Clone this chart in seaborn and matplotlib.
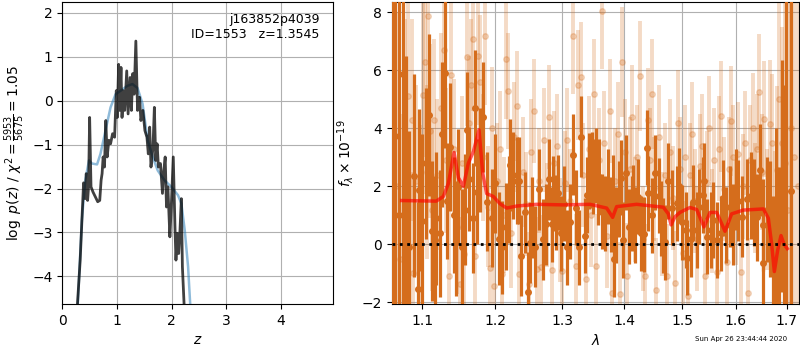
import matplotlib
matplotlib.use("Agg")
import matplotlib.pyplot as plt
import seaborn as sns
import pandas as pd
from matplotlib.ticker import FixedLocator, FixedFormatter, NullLocator

############################
# redshift panel data
############################
pz_z = [0.25, 0.278, 0.327, 0.364, 0.389, 0.42, 0.438, 0.463, 0.48, 0.50,
        0.525, 0.562, 0.605, 0.648, 0.685, 0.71, 0.728, 0.747, 0.772, 0.796,
        0.821, 0.852, 0.883, 0.92, 0.957, 0.988, 1.006, 1.031, 1.049, 1.074,
        1.093, 1.117, 1.142, 1.179, 1.204, 1.241, 1.265, 1.29, 1.315, 1.346,
        1.377, 1.414, 1.438, 1.475, 1.512, 1.549, 1.574, 1.599, 1.623, 1.66,
        1.685, 1.71, 1.735, 1.759, 1.796, 1.833, 1.858, 1.883, 1.907, 1.932,
        1.969, 1.994, 2.031, 2.062, 2.08, 2.105, 2.13, 2.154, 2.179, 2.198,
        2.228, 2.253]
pz_logp = [-5.3, -4.61, -3.63, -2.57, -1.87, -2.23, -1.66, -2.27, -1.96, -0.38,
           -1.96, -2.08, -2.19, -2.30, -2.27, -1.81, -1.66, -1.28, -1.51, -0.45,
           -1.28, -0.90, -0.98, -0.75, -0.83, 0.23, -0.38, 0.83, -0.22, 0.76,
           -0.38, 0.23, -0.22, 0.68, -0.30, 0.53, -0.22, 0.62, 0.15, 1.36,
           -0.22, 0.08, -0.45, -0.22, -0.68, -0.83, -1.21, -0.60, -1.51, -1.06,
           -0.15, -1.36, -0.98, -1.51, -1.43, -2.11, -1.59, -1.28, -2.42, -1.96,
           -3.10, -2.42, -1.28, -2.87, -3.63, -3.02, -3.48, -2.95, -2.23, -3.78,
           -4.61, -5.3]

smooth_z = [0.265, 0.284, 0.358, 0.42, 0.488, 0.543, 0.636, 0.698, 0.79, 0.883,
            0.975, 1.068, 1.191, 1.284, 1.377, 1.469, 1.562, 1.654, 1.747, 1.87,
            1.994, 2.117, 2.179, 2.241, 2.302, 2.34, 2.364]
smooth_logp = [-5.3, -4.61, -2.72, -1.81, -1.36, -1.43, -1.45, -1.21, -0.68, -0.15,
               0.15, 0.23, 0.34, 0.38, 0.29, -0.07, -0.90, -1.28, -1.59, -1.81,
               -1.96, -2.15, -2.34, -2.95, -3.78, -4.61, -5.3]

############################
# spectrum panel data
############################
dark_wave = [1.0615, 1.0651, 1.0700, 1.0749, 1.0790, 1.0827, 1.0896, 1.0939, 1.0961, 1.1000,
             1.1049, 1.1084, 1.1124, 1.1173, 1.1181, 1.1235, 1.1266, 1.1307, 1.1334, 1.1375,
             1.1420, 1.1452, 1.1479, 1.1530, 1.1570, 1.1603, 1.1636, 1.1680, 1.1720, 1.1743,
             1.1790, 1.1832, 1.1879, 1.1950, 1.2000, 1.2051, 1.2099, 1.2150, 1.2196, 1.2215,
             1.2259, 1.2313, 1.2342, 1.2381, 1.2430, 1.2480, 1.2510, 1.2545, 1.2580, 1.2640,
             1.2711, 1.2751, 1.2797, 1.2843, 1.2863, 1.2900, 1.2940, 1.2987, 1.3030, 1.3070,
             1.3122, 1.3164, 1.3211, 1.3269, 1.3301, 1.3359, 1.3396, 1.3428, 1.3466, 1.3493,
             1.3531, 1.3563, 1.3590, 1.3639, 1.3688, 1.3740, 1.3781, 1.3808, 1.3836, 1.3863,
             1.3913, 1.3950, 1.3985, 1.4024, 1.4074, 1.4125, 1.4153, 1.4176, 1.4238, 1.4278,
             1.4341, 1.4381, 1.4404, 1.4470, 1.4531, 1.4589, 1.4630, 1.4670, 1.4705, 1.4758,
             1.4823, 1.4906, 1.4953, 1.5007, 1.5067, 1.5085, 1.5157, 1.5205, 1.5266, 1.5309,
             1.5376, 1.5406, 1.5461, 1.5523, 1.5573, 1.5635, 1.5716, 1.5760, 1.5810, 1.5886,
             1.5949, 1.6000, 1.6045, 1.6122, 1.6206, 1.6283, 1.6355, 1.6413, 1.6466, 1.6518,
             1.6531, 1.6600, 1.6663, 1.6730, 1.6790, 1.6843, 1.6897, 1.6950, 1.6990, 1.7086]
dark_flux = [2.0, 3.74, 1.0, 5.87, 1.5, -0.10, 2.37, -1.54, 1.87, 0.8,
             2.79, 4.46, 0.46, 0.15, 0.90, 0.38, 3.79, 5.92, 1.48, 3.36,
             1.0, 0.20, 1.98, -0.10, 1.2, 3.94, 2.26, 0.9, 4.69, 1.82,
             2.9, 4.40, 1.47, 0.90, 2.1, 0.20, -0.10, 0.6, 1.53, 2.74,
             2.39, 2.20, 2.20, -0.39, 1.1, -1.66, 0.06, 0.93, -0.08, 1.9,
             0.18, 0.69, 2.24, 0.69, 1.76, 1.1, 1.78, 0.38, 1.4, -0.10,
             0.78, 3.09, 1.26, -0.10, 3.71, 0.30, 1.70, 2.53, 2.56, 2.33,
             2.71, 1.95, 2.33, 1.13, 1.07, 2.0, 1.03, 1.79, -0.52, 0.66,
             1.56, 2.3, 0.15, 2.47, 0.61, 1.07, 1.45, 0.67, 1.64, 0.38,
             0.34, 3.33, 1.76, 1.0, 2.47, 1.68, 0.9, 0.30, 0.07, 2.18,
             1.26, 1.41, 2.02, 0.76, 0.49, -0.46, 0.17, 1.45, 0.49, 1.30,
             1.70, 2.18, 0.26, 0.49, 0.84, 0.15, 0.38, 1.6, 0.67, 1.30,
             0.67, 1.9, 1.51, 0.95, 1.55, 1.68, 1.44, 0.93, 2.56, -0.66,
             0.67, 1.2, 0.87, -0.94, 0.5, -0.83, 2.36, 1.0, 9.5, 1.84]
dark_err = [30, 30, 30, 30, 5.0, 4.0, 3.5, 3.0, 2.8, 3.0,
            2.6, 2.8, 2.4, 2.2, 2.3, 2.2, 2.5, 2.6, 2.0, 2.2,
            2.0, 2.0, 2.0, 2.0, 1.9, 2.0, 1.8, 1.9, 2.0, 1.8,
            1.8, 1.9, 1.7, 1.7, 1.7, 1.6, 1.6, 1.5, 1.5, 1.6,
            1.5, 1.5, 1.5, 1.4, 1.4, 1.4, 1.4, 1.4, 1.4, 1.4,
            1.4, 1.4, 1.4, 1.3, 1.3, 1.3, 1.3, 1.3, 1.3, 1.3,
            1.3, 1.4, 1.3, 1.3, 1.4, 1.3, 1.3, 1.3, 1.3, 1.3,
            1.3, 1.3, 1.3, 1.3, 1.3, 1.3, 1.3, 1.3, 1.3, 1.3,
            1.3, 1.3, 1.3, 1.3, 1.3, 1.3, 1.3, 1.3, 1.3, 1.3,
            1.3, 1.3, 1.3, 1.3, 1.3, 1.3, 1.3, 1.3, 1.3, 1.3,
            1.3, 1.3, 1.3, 1.3, 1.3, 1.3, 1.3, 1.3, 1.3, 1.3,
            1.3, 1.3, 1.3, 1.3, 1.3, 1.3, 1.3, 1.3, 1.3, 1.4,
            1.4, 1.4, 1.4, 1.4, 1.4, 1.5, 1.5, 1.5, 1.6, 1.6,
            1.6, 1.8, 2.0, 2.6, 3.5, 3.5, 4.0, 4.5, 30, 30]

light_wave = [1.0620, 1.0665, 1.0710, 1.0770, 1.0815, 1.0860, 1.0880, 1.0920, 1.0975,
              1.1005, 1.1032, 1.1060, 1.1076, 1.1100, 1.1130, 1.1160, 1.1200, 1.1250, 1.1284,
              1.1320, 1.1355, 1.1384, 1.1430, 1.1470, 1.1500, 1.1540, 1.1565, 1.1600, 1.1630,
              1.1658, 1.1690, 1.1720, 1.1758, 1.1790, 1.1830, 1.1859, 1.1900, 1.1930, 1.1960,
              1.1990, 1.2030, 1.2070, 1.2100, 1.2130, 1.2157, 1.2190, 1.2230, 1.2270, 1.2313,
              1.2350, 1.2400, 1.2450, 1.2500, 1.2530, 1.2570, 1.2610, 1.2650, 1.2680, 1.2720,
              1.2760, 1.2800, 1.2850, 1.2880, 1.2920, 1.2960, 1.3000, 1.3040, 1.3080, 1.3120,
              1.3174, 1.3210, 1.3254, 1.3294, 1.3330, 1.3380, 1.3420, 1.3460, 1.3499, 1.3540,
              1.3580, 1.3630, 1.3670, 1.3720, 1.3760, 1.3800, 1.3850, 1.3890, 1.3930, 1.3966,
              1.4010, 1.4050, 1.4090, 1.4130, 1.4180, 1.4220, 1.4268, 1.4310, 1.4350, 1.4396,
              1.4440, 1.4468, 1.4510, 1.4550, 1.4600, 1.4650, 1.4700, 1.4740, 1.4790, 1.4840,
              1.4880, 1.4930, 1.4970, 1.5010, 1.5050, 1.5100, 1.5140, 1.5190, 1.5230, 1.5280,
              1.5320, 1.5370, 1.5410, 1.5450, 1.5500, 1.5550, 1.5590, 1.5640, 1.5680, 1.5720,
              1.5770, 1.5820, 1.5860, 1.5900, 1.5950, 1.6000, 1.6040, 1.6090, 1.6130, 1.6180,
              1.6230, 1.6270, 1.6320, 1.6360, 1.6410, 1.6453, 1.6500, 1.6550, 1.6600, 1.6663,
              1.6710, 1.6760, 1.6800, 1.6843, 1.6900, 1.6960, 1.7020, 1.7080, 1.7150, 1.7220]
light_flux = [4.0, 2.0, -0.5, 3.77, 5.1, 4.29, -1.0, 2.2, 0.9,
              5.15, 6.30, 2.5, 7.87, 3.9, 1.2, 4.3, 2.4, 4.7, 6.70,
              2.9, -1.1, 5.85, 3.3, 0.6, -1.37, 2.8, -0.34, 6.47, 4.2,
              5.48, 7.10, -0.4, 6.50, 5.60, 3.0, 7.20, 1.3, -0.83, 4.0,
              -1.44, 2.2, 3.3, -1.02, 1.0, 6.41, 5.30, 0.4, 3.7, 4.77,
              -1.03, 2.5, 1.4, -1.37, 3.2, 4.6, -0.86, 2.2, -0.80, 3.6,
              1.0, 4.4, -0.89, 2.8, 3.4, 0.5, -0.92, 2.1, 3.6, 1.5,
              7.20, -0.74, 5.49, 5.76, 2.4, -1.20, 3.3, 1.0, 5.17, -0.74,
              2.9, 8.05, 3.5, 0.3, 4.6, -1.67, 2.2, 3.8, -1.71, 6.30,
              3.2, -1.08, 2.6, 4.4, 1.2, 3.0, 5.80, 0.2, -1.09, 4.29,
              2.9, 5.18, 1.9, -1.57, 3.7, 0.7, 2.4, -1.11, 3.2, 1.6,
              -1.34, 4.2, 2.6, -0.3, 3.0, -1.77, 2.4, 3.8, 1.5, 0.2,
              2.7, 3.4, -1.11, 2.1, 4.0, 0.8, 2.9, -0.97, 3.3, 4.41,
              1.9, -0.6, 2.6, 4.25, 3.0, 1.1, 3.1, -0.94, 2.0, 3.5,
              -1.69, 2.9, 4.0, 1.6, 3.3, 5.26, 2.5, 4.33, 1.2, 4.15,
              3.48, 0.63, 2.56, 5.03, 3.5, 2.8, 1.2, 4.0, 3.0, 2.0]
light_err = [8, 6, 5, 4.0, 3.8, 3.5, 3.5, 3.3, 3.2,
             3.4, 3.3, 3.0, 3.2, 3.0, 2.8, 2.8, 2.6, 2.6, 2.8,
             2.5, 2.5, 2.6, 2.4, 2.3, 2.3, 2.3, 2.2, 2.4, 2.3,
             2.3, 2.5, 2.2, 2.4, 2.3, 2.2, 2.4, 2.1, 2.0, 2.1,
             2.0, 2.0, 2.0, 2.0, 2.0, 2.1, 2.0, 1.9, 1.9, 1.9,
             1.9, 1.9, 1.8, 1.8, 1.8, 1.8, 1.8, 1.8, 1.8, 1.8,
             1.8, 1.8, 1.8, 1.8, 1.8, 1.8, 1.8, 1.8, 1.8, 1.8,
             2.0, 1.8, 1.9, 1.9, 1.8, 1.8, 1.8, 1.8, 1.9, 1.8,
             1.8, 2.0, 1.8, 1.8, 1.8, 1.8, 1.8, 1.8, 1.8, 1.9,
             1.8, 1.8, 1.8, 1.8, 1.8, 1.8, 1.9, 1.8, 1.8, 1.8,
             1.8, 1.9, 1.8, 1.8, 1.8, 1.8, 1.8, 1.8, 1.8, 1.8,
             1.8, 1.8, 1.8, 1.8, 1.8, 1.8, 1.8, 1.8, 1.8, 1.8,
             1.8, 1.8, 1.8, 1.8, 1.8, 1.8, 1.8, 1.8, 1.8, 1.9,
             1.8, 1.8, 1.8, 1.9, 1.8, 1.8, 1.8, 1.8, 1.8, 1.8,
             1.9, 1.9, 1.9, 1.9, 1.9, 2.0, 2.0, 2.0, 2.1, 2.2,
             2.4, 2.6, 2.9, 3.3, 4.0, 6, 8, 10, 12, 12]

model_wave = [1.0732, 1.1185, 1.1280, 1.1348, 1.1425, 1.1484, 1.1553, 1.1622, 1.1692, 1.1771,
              1.1823, 1.1879, 1.1974, 1.2070, 1.2166, 1.2313, 1.2610, 1.3018, 1.3439, 1.3710,
              1.3808, 1.3874, 1.3957, 1.4209, 1.4438, 1.4670, 1.4758, 1.4806, 1.4876, 1.4965,
              1.5145, 1.5266, 1.5400, 1.5511, 1.5635, 1.5791, 1.5917, 1.6141, 1.6531, 1.6630,
              1.6697, 1.6750, 1.6817, 1.6884, 1.6945, 1.7012]
model_flux = [1.51, 1.49, 1.65, 2.10, 3.17, 2.30, 2.00, 2.80, 3.20, 3.95,
              2.45, 1.75, 1.65, 1.40, 1.25, 1.32, 1.38, 1.36, 1.38, 1.25,
              0.93, 1.30, 1.32, 1.38, 1.33, 1.28, 1.05, 0.67, 0.95, 1.10,
              1.27, 1.20, 0.60, 1.10, 1.10, 0.45, 1.05, 1.18, 1.22, 0.90,
              0.00, -0.94, -0.20, 0.30, 0.00, -0.15]

lam_ticks = [1.1, 1.2, 1.3, 1.4, 1.5, 1.6, 1.7]
orange = '#d56d1c'

############################
# figure
############################
fig = plt.figure(figsize=(8, 3.5), dpi=100)
ax1 = fig.add_axes([0.0779, 0.1314, 0.3387, 0.8629])
ax2 = fig.add_axes([0.4896, 0.1314, 0.5091, 0.8629])

# p(z)
sns.lineplot(x=smooth_z, y=smooth_logp, ax=ax1, color='tab:blue', alpha=0.5,
             linewidth=1.8, sort=False, estimator=None)
sns.lineplot(x=pz_z, y=pz_logp, ax=ax1, color='k', alpha=0.75, linewidth=2,
             sort=False, estimator=None)
ax1.set_xlim(0, 4.96)
ax1.set_ylim(-4.63, 2.25)
ax1.grid(True)
ax1.set_xlabel(r'$z$')
ax1.set_ylabel(r'$\log\ p(z)$ / $\chi^2=\frac{5953}{5675}=1.05$')
ax1.text(0.95, 0.965, 'j163852p4039\nID=1553   z=1.3545', ha='right', va='top',
         transform=ax1.transAxes, fontsize=9)

# spectrum
ax2.errorbar(light_wave, light_flux, yerr=light_err, fmt='o', color=orange,
             alpha=0.25, markersize=4, elinewidth=2.8, capsize=0, zorder=2)
ax2.errorbar(dark_wave, dark_flux, yerr=dark_err, fmt='o', color=orange,
             alpha=1.0, markersize=4, elinewidth=2.3, capsize=0, zorder=3)
sns.lineplot(x=model_wave, y=model_flux, ax=ax2, color='r', alpha=0.65,
             linewidth=2.5, sort=False, estimator=None, zorder=5)
ax2.axhline(0, color='k', linestyle=':', linewidth=2, zorder=6)

ax2.set_xscale('log')
ax2.xaxis.set_major_locator(FixedLocator(lam_ticks))
ax2.xaxis.set_major_formatter(FixedFormatter([str(t) for t in lam_ticks]))
ax2.xaxis.set_minor_locator(NullLocator())
ax2.set_xlim(1.0605, 1.725)
ax2.set_ylim(-2.06, 8.36)
ax2.grid(True)
ax2.set_xlabel(r'$\lambda$')
ax2.set_ylabel(r'$f_\lambda\times10^{-19}$')

fig.text(0.984, 0.022, 'Sun Apr 26 23:44:44 2020', ha='right', va='bottom', fontsize=5)

fig.savefig('out.png', dpi=100)
